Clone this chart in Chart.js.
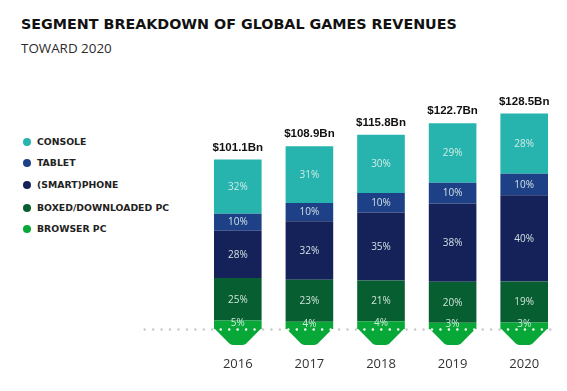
<!DOCTYPE html>
<html>
<head>
<meta charset="utf-8">
<script src="https://cdn.jsdelivr.net/npm/chart.js@4/dist/chart.umd.min.js"></script>
<style>
  html, body { margin: 0; padding: 0; background: #fff; }
  body { width: 567px; height: 391px; position: relative; overflow: hidden; font-family: "DejaVu Sans", sans-serif; }
  #title { position: absolute; left: 21px; top: 16px; font-size: 14.3px; font-weight: bold; color: #111; white-space: nowrap; }
  #subtitle { position: absolute; left: 21px; top: 39px; font-family: "Open Sans", sans-serif; font-size: 13.4px; color: #2b2b2b; white-space: nowrap; }
  #legend { position: absolute; left: 23px; top: 136px; }
  .item { position: absolute; left: 0; height: 12px; white-space: nowrap; font-size: 9.3px; font-weight: bold; color: #222; }
  .item span.dot { position: absolute; left: 0; top: 2px; width: 8px; height: 8px; border-radius: 50%; }
  .item span.lbl { position: absolute; left: 14px; top: 0; line-height: 12px; }
  #wrap { position: absolute; left: 0; top: 0; width: 567px; height: 391px; }
</style>
</head>
<body>
<div id="title">SEGMENT BREAKDOWN OF GLOBAL GAMES REVENUES</div>
<div id="subtitle">TOWARD 2020</div>
<div id="legend"></div>
<div id="wrap"><canvas id="gamesChart"></canvas></div>

<script>
/* ========================================
   Data
   ======================================== */

const years = ['2016', '2017', '2018', '2019', '2020'];
const totals = [101.1, 108.9, 115.8, 122.7, 128.5];
const totalLabels = ['$101.1Bn', '$108.9Bn', '$115.8Bn', '$122.7Bn', '$128.5Bn'];

// shares per segment, % of the year's total
const consoleShare = [32, 31, 30, 29, 28];
const tabletShare = [10, 10, 10, 10, 10];
const phoneShare = [28, 32, 35, 38, 40];
const boxedPcShare = [25, 23, 21, 20, 19];
const browserPcShare = [5, 4, 4, 3, 3];

const segmentNames = ['CONSOLE', 'TABLET', '(SMART)PHONE', 'BOXED/DOWNLOADED PC', 'BROWSER PC'];

const colors = {
    console: '#27b4ae',
    tablet: '#1d4087',
    phone: '#15225a',
    boxedPc: '#075e30',
    browserPc: '#08a838'
};

/* ========================================
   Legend (left side)
   ======================================== */

function buildLegend() {
    const legend = document.getElementById('legend');
    const swatches = [colors.console, colors.tablet, colors.phone, colors.boxedPc, colors.browserPc];
    const offsets = [0, 21, 43, 66, 87];
    segmentNames.forEach(function (name, i) {
        const item = document.createElement('div');
        item.className = 'item';
        item.style.top = offsets[i] + 'px';
        item.innerHTML = '<span class="dot" style="background:' + swatches[i] + '"></span>' +
            '<span class="lbl">' + name + '</span>';
        legend.appendChild(item);
    });
}

/* ========================================
   Chart
   ======================================== */

function toBn(shares) {
    return shares.map(function (p, i) { return totals[i] * p / 100; });
}

// chevrons, dotted baseline, segment labels, totals and years
const decorPlugin = {
    id: 'decor',
    beforeDatasetsDraw: function (chart) {
        const ctx = chart.ctx;
        const base = chart.scales.y.getPixelForValue(0);
        const meta = chart.getDatasetMeta(0);
        ctx.save();
        ctx.fillStyle = colors.browserPc;
        meta.data.forEach(function (bar) {
            const half = bar.width / 2;
            const tipY = base + 16;
            const flat = 7;
            ctx.beginPath();
            ctx.moveTo(bar.x - half, base - 1);
            ctx.lineTo(bar.x + half, base - 1);
            ctx.arcTo(bar.x + flat, tipY, bar.x - flat, tipY, 5);
            ctx.arcTo(bar.x - flat, tipY, bar.x - half, base - 1, 5);
            ctx.closePath();
            ctx.fill();
        });
        ctx.restore();
    },
    afterDatasetsDraw: function (chart) {
        const ctx = chart.ctx;
        const yScale = chart.scales.y;
        const xScale = chart.scales.x;
        const base = yScale.getPixelForValue(0);
        const bars = chart.getDatasetMeta(0).data;

        // dotted baseline
        ctx.save();
        for (let x = 144.7; x <= 553; x += 8.45) {
            const inBar = bars.some(function (b) {
                return x > b.x - b.width / 2 + 1 && x < b.x + b.width / 2 - 1;
            });
            ctx.fillStyle = inBar ? '#ffffff' : '#c9c9c9';
            ctx.beginPath();
            ctx.arc(x, base + 0.5, 1.2, 0, Math.PI * 2);
            ctx.fill();
        }
        ctx.restore();

        // segment percentages
        ctx.save();
        ctx.font = '10px "Open Sans", sans-serif';
        ctx.textAlign = 'center';
        ctx.textBaseline = 'middle';
        ctx.fillStyle = 'rgba(225, 240, 236, 0.92)';
        chart.data.datasets.forEach(function (ds, di) {
            const meta = chart.getDatasetMeta(di);
            meta.data.forEach(function (el, i) {
                const mid = (el.y + el.base) / 2;
                ctx.fillText(ds.shares[i] + '%', el.x, mid + (di === 0 ? -1.5 : 0.5));
            });
        });
        ctx.restore();

        // totals above each bar
        ctx.save();
        ctx.font = 'bold 11.5px "Liberation Sans", sans-serif';
        ctx.textAlign = 'center';
        ctx.textBaseline = 'middle';
        ctx.fillStyle = '#111';
        totals.forEach(function (t, i) {
            const top = yScale.getPixelForValue(t);
            ctx.fillText(totalLabels[i], xScale.getPixelForValue(i), top - 12);
        });
        ctx.restore();

        // year labels
        ctx.save();
        ctx.font = '13px "Open Sans", sans-serif';
        ctx.textAlign = 'center';
        ctx.textBaseline = 'middle';
        ctx.fillStyle = '#333';
        years.forEach(function (yr, i) {
            ctx.fillText(yr, xScale.getPixelForValue(i), 364);
        });
        ctx.restore();
    }
};

function initChart() {
    const ctx = document.getElementById('gamesChart').getContext('2d');

    new Chart(ctx, {
        type: 'bar',
        data: {
            labels: years,
            datasets: [
                { label: 'BROWSER PC', data: toBn(browserPcShare), shares: browserPcShare, backgroundColor: colors.browserPc },
                { label: 'BOXED/DOWNLOADED PC', data: toBn(boxedPcShare), shares: boxedPcShare, backgroundColor: colors.boxedPc },
                { label: '(SMART)PHONE', data: toBn(phoneShare), shares: phoneShare, backgroundColor: colors.phone },
                { label: 'TABLET', data: toBn(tabletShare), shares: tabletShare, backgroundColor: colors.tablet },
                { label: 'CONSOLE', data: toBn(consoleShare), shares: consoleShare, backgroundColor: colors.console }
            ]
        },
        options: {
            responsive: true,
            maintainAspectRatio: false,
            animation: false,
            layout: { padding: { left: 202, right: 7, top: 100, bottom: 62 } },
            datasets: {
                bar: { barPercentage: 1, categoryPercentage: 0.665, borderWidth: 0 }
            },
            plugins: {
                legend: { display: false },
                tooltip: { enabled: false }
            },
            scales: {
                x: { stacked: true, display: false },
                y: { stacked: true, display: false, min: 0, max: 136.5 }
            }
        },
        plugins: [decorPlugin]
    });
}

document.addEventListener('DOMContentLoaded', function () {
    buildLegend();
    initChart();
});
</script>
</body>
</html>
